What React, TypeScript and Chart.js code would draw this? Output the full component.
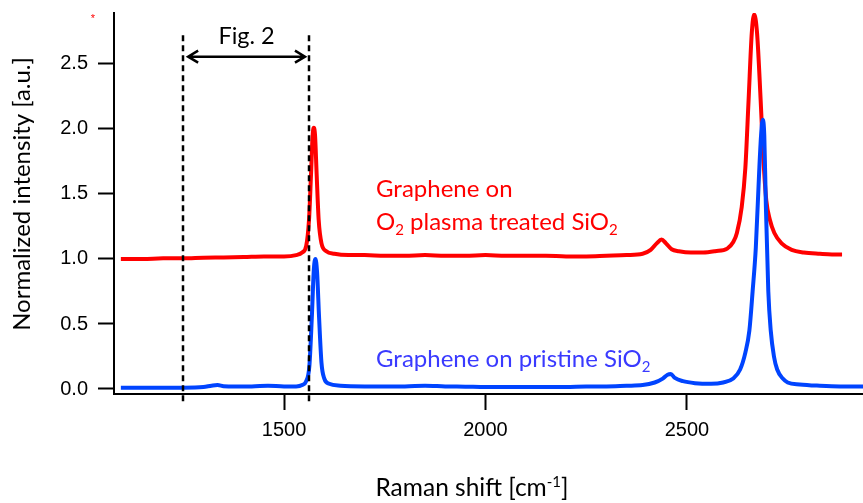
import React, { useEffect, useRef } from "react";
import { Chart, registerables } from "chart.js";

Chart.register(...registerables);

// ---- data ----
const redX = [1095,1150,1200,1250,1300,1350,1400,1450,1500,1530,1545,1555,1562,1567,1571,1574,1577,1581,1586,1593,1605,1625,1660,1700,1750,1800,1850,1900,1950,2000,2050,2100,2150,2200,2250,2300,2350,2390,2410,2425,2437,2448,2462,2480,2510,2540,2570,2600,2615,2624,2636,2645,2653,2661,2667,2674,2683,2690,2697,2706,2717,2735,2760,2790,2830,2860,2885];
const redY = [1.00,1.00,1.005,1.005,1.01,1.012,1.015,1.02,1.02,1.03,1.05,1.10,1.30,1.65,1.95,2.01,1.95,1.65,1.30,1.12,1.06,1.04,1.03,1.03,1.025,1.025,1.03,1.025,1.025,1.03,1.025,1.025,1.025,1.02,1.02,1.025,1.03,1.04,1.07,1.12,1.15,1.12,1.075,1.06,1.05,1.05,1.06,1.08,1.13,1.20,1.40,1.70,2.22,2.74,2.88,2.74,2.22,1.76,1.45,1.30,1.20,1.12,1.07,1.05,1.04,1.035,1.035];

const blueX = [1095,1150,1200,1250,1300,1320,1335,1350,1380,1420,1460,1500,1530,1545,1555,1563,1569,1574,1578,1582,1587,1593,1600,1612,1640,1700,1750,1800,1850,1900,1950,2000,2050,2100,2150,2200,2250,2300,2350,2390,2420,2440,2452,2460,2470,2490,2520,2560,2590,2615,2632,2645,2655,2663,2671,2679,2684,2688,2692,2696,2702,2708,2716,2724,2738,2750,2780,2830,2880,2945];
const blueY = [0.01,0.01,0.01,0.01,0.015,0.025,0.03,0.022,0.02,0.02,0.025,0.02,0.02,0.03,0.06,0.18,0.55,0.92,1.00,0.90,0.55,0.20,0.08,0.04,0.025,0.02,0.02,0.02,0.025,0.02,0.018,0.015,0.015,0.015,0.015,0.015,0.02,0.02,0.025,0.03,0.05,0.08,0.11,0.115,0.085,0.06,0.045,0.04,0.05,0.08,0.15,0.28,0.45,0.75,1.09,1.65,1.95,2.07,1.95,1.40,0.75,0.45,0.25,0.15,0.08,0.05,0.035,0.025,0.02,0.02];

const xTicks = [1500, 2000, 2500];
const yTicks = [0, 0.5, 1.0, 1.5, 2.0, 2.5];

const markerLinesX = [1250, 1562];
const markerRange = [-0.12, 2.72];
const arrowRange = [1262, 1552];
const arrowY = 2.556;

const RED = "#ff0000";
const BLUE_LINE = "#0044ff";
const BLUE_TEXT = "#3a3aff";
const TEXT_FONT = "Lato, 'Open Sans', sans-serif";
const TICK_FONT = "'Liberation Sans', Arial, sans-serif";

type Part = { t: string; s?: "sub" | "sup" };

function drawRich(ctx: CanvasRenderingContext2D, parts: Part[], x: number, y: number, size: number, color: string, align: "left" | "center" = "left") {
  const small = Math.round(size * 0.62);
  const widths = parts.map((p) => {
    ctx.font = `${p.s ? small : size}px ${TEXT_FONT}`;
    return ctx.measureText(p.t).width;
  });
  const total = widths.reduce((a, b) => a + b, 0);
  let cx = align === "center" ? x - total / 2 : x;
  ctx.fillStyle = color;
  ctx.textBaseline = "alphabetic";
  ctx.textAlign = "left";
  parts.forEach((p, i) => {
    ctx.font = `${p.s ? small : size}px ${TEXT_FONT}`;
    const dy = p.s === "sub" ? size * 0.2 : p.s === "sup" ? -size * 0.38 : 0;
    ctx.fillText(p.t, cx, y + dy);
    cx += widths[i];
  });
}

const annotations = {
  id: "annotations",
  afterDatasetsDraw(chart: any) {
    const { ctx } = chart;
    const x = chart.scales.x;
    const y = chart.scales.y;
    ctx.save();
    // dashed markers
    ctx.setLineDash([6, 4]);
    ctx.lineWidth = 2.5;
    ctx.strokeStyle = "#000";
    for (const v of markerLinesX) {
      const px = Math.round(x.getPixelForValue(v));
      ctx.beginPath();
      ctx.moveTo(px, y.getPixelForValue(markerRange[1]));
      ctx.lineTo(px, y.getPixelForValue(markerRange[0]));
      ctx.stroke();
    }
    ctx.setLineDash([]);
    // arrow
    const ax0 = x.getPixelForValue(arrowRange[0]);
    const ax1 = x.getPixelForValue(arrowRange[1]);
    const ay = y.getPixelForValue(arrowY);
    ctx.lineWidth = 2.5;
    ctx.beginPath();
    ctx.moveTo(ax0, ay);
    ctx.lineTo(ax1, ay);
    ctx.moveTo(ax0 + 10, ay - 6);
    ctx.lineTo(ax0, ay);
    ctx.lineTo(ax0 + 10, ay + 6);
    ctx.moveTo(ax1 - 10, ay - 6);
    ctx.lineTo(ax1, ay);
    ctx.lineTo(ax1 - 10, ay + 6);
    ctx.stroke();

    drawRich(ctx, [{ t: "Fig. 2" }], (ax0 + ax1) / 2, 44, 23.5, "#000", "center");

    drawRich(ctx, [{ t: "Graphene on" }], 376, 197, 24, RED);
    drawRich(ctx, [{ t: "O" }, { t: "2", s: "sub" }, { t: " plasma treated SiO" }, { t: "2", s: "sub" }], 376, 230, 24, RED);
    drawRich(ctx, [{ t: "Graphene on pristine SiO" }, { t: "2", s: "sub" }], 376, 367, 24, BLUE_TEXT);

    // axis titles
    drawRich(ctx, [{ t: "Raman shift [cm" }, { t: "-1", s: "sup" }, { t: "]" }], 472, 496, 24.5, "#000", "center");
    ctx.save();
    ctx.translate(30, 194);
    ctx.rotate(-Math.PI / 2);
    drawRich(ctx, [{ t: "Normalized intensity [a.u.]" }], 0, 0, 24, "#000", "center");
    ctx.restore();

    // small red mark
    ctx.fillStyle = RED;
    ctx.font = `11px ${TICK_FONT}`;
    ctx.textAlign = "center";
    ctx.textBaseline = "middle";
    ctx.fillText("*", 93, 19);
    ctx.restore();
  },
};

export default function App() {
  const ref = useRef<HTMLCanvasElement | null>(null);
  useEffect(() => {
    document.body.style.margin = "0";
    if (!ref.current) return;
    const chart = new Chart(ref.current, {
      type: "line",
      data: {
        datasets: [
          {
            label: "Graphene on O2 plasma treated SiO2",
            data: redX.map((v, i) => ({ x: v, y: redY[i] })),
            borderColor: RED,
            borderWidth: 4,
            pointRadius: 0,
            cubicInterpolationMode: "monotone",
            order: 1,
          },
          {
            label: "Graphene on pristine SiO2",
            data: blueX.map((v, i) => ({ x: v, y: blueY[i] })),
            borderColor: BLUE_LINE,
            borderWidth: 4,
            pointRadius: 0,
            cubicInterpolationMode: "monotone",
            order: 0,
          },
        ],
      },
      options: {
        animation: false,
        responsive: false,
        layout: { padding: { top: 13, left: 0, right: 0, bottom: 0 } },
        plugins: { legend: { display: false }, tooltip: { enabled: false } },
        scales: {
          x: {
            type: "linear",
            min: 1078,
            max: 2937,
            afterBuildTicks: (s: any) => {
              s.ticks = xTicks.map((v) => ({ value: v }));
            },
            afterFit: (s: any) => {
              s.height = 109;
              s.paddingLeft = 0;
              s.paddingRight = 0;
            },
            ticks: {
              color: "#000",
              font: { family: TICK_FONT, size: 20 },
              padding: 8,
              maxRotation: 0,
              autoSkip: false,
              callback: (v: any) => String(v),
            },
            grid: { drawOnChartArea: false, drawTicks: true, tickLength: 16, tickWidth: 2, tickColor: "#000" },
            border: { color: "#000", width: 2 },
          },
          y: {
            type: "linear",
            min: -0.0385,
            max: 2.892,
            afterBuildTicks: (s: any) => {
              s.ticks = yTicks.map((v) => ({ value: v }));
            },
            afterFit: (s: any) => {
              s.width = 114;
              s.paddingTop = 0;
              s.paddingBottom = 0;
            },
            ticks: {
              color: "#000",
              font: { family: TICK_FONT, size: 20 },
              padding: 10,
              autoSkip: false,
              callback: (v: any) => Number(v).toFixed(1),
            },
            grid: { drawOnChartArea: false, drawTicks: true, tickLength: 16, tickWidth: 2, tickColor: "#000" },
            border: { color: "#000", width: 2 },
          },
        },
      },
      plugins: [annotations],
    });
    return () => chart.destroy();
  }, []);
  return <canvas ref={ref} width={863} height={503} style={{ display: "block" }} />;
}
